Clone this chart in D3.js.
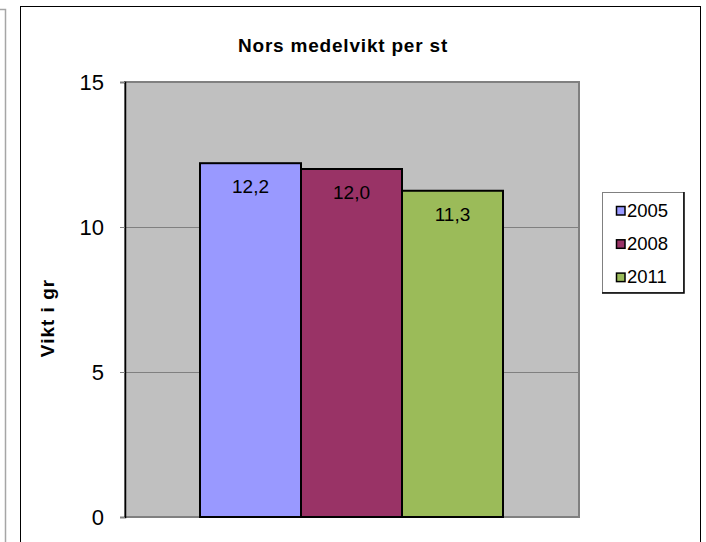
<!DOCTYPE html>
<html>
<head>
<meta charset="utf-8">
<script src="https://cdn.jsdelivr.net/npm/d3@7"></script>
<style>
  html, body { margin: 0; padding: 0; background: #fff; }
  svg { display: block; font-family: "Liberation Sans", Arial, sans-serif; }
</style>
</head>
<body>
<svg id="chart" width="706" height="542"></svg>
<script>
// ---- data ----
const title = "Nors medelvikt per st";
const yAxisTitle = "Vikt i gr";
const series = ["2005", "2008", "2011"];
const values = [12.2, 12.0, 11.25];
const colors = ["#9999FF", "#993366", "#9BBB59"];
const yTicks = [0, 5, 10, 15];

// ---- layout ----
const svg = d3.select("#chart");
const plot = { left: 125, right: 579, top: 82, bottom: 517 };

// stray frame fragment at the far left
svg.append("path")
  .attr("d", "M0,9.5 H5.5 V542")
  .attr("fill", "none").attr("stroke", "#a6a6a6").attr("stroke-width", 1.5);

// chart frame
svg.append("rect")
  .attr("x", 20.5).attr("y", 6.5).attr("width", 680).attr("height", 560)
  .attr("fill", "#fff").attr("stroke", "#000").attr("stroke-width", 1);

// scales
const y = d3.scaleLinear().domain([0, 15]).range([plot.bottom, plot.top]);
const x = d3.scaleBand().domain(series).range([200, 503]).padding(0);

// plot area
svg.append("rect")
  .attr("x", plot.left).attr("y", plot.top)
  .attr("width", plot.right - plot.left).attr("height", plot.bottom - plot.top)
  .attr("fill", "#C0C0C0").attr("stroke", "#808080").attr("stroke-width", 2);

// gridlines
svg.append("g").selectAll("line")
  .data(yTicks.filter(t => t > 0 && t < 15))
  .join("line")
  .attr("x1", plot.left).attr("x2", plot.right)
  .attr("y1", d => Math.round(y(d)) + 0.5).attr("y2", d => Math.round(y(d)) + 0.5)
  .attr("stroke", "#808080").attr("stroke-width", 1);

// y axis
const yAxis = d3.axisLeft(y).tickValues(yTicks).tickSize(5).tickPadding(16)
  .tickFormat(d3.format("d"));
const gy = svg.append("g").attr("transform", `translate(${plot.left},0)`).call(yAxis);
gy.select(".domain").attr("stroke", "#000").attr("stroke-width", 1.5);
gy.selectAll(".tick line").attr("stroke", "#808080");
gy.selectAll(".tick text")
  .attr("font-size", 22).attr("fill", "#000")
  .attr("font-family", "Liberation Sans, Arial, sans-serif")
  .attr("dy", "0.36em");

// bars
svg.append("g").selectAll("rect")
  .data(values)
  .join("rect")
  .attr("x", (d, i) => x(series[i]))
  .attr("y", d => y(d))
  .attr("width", x.bandwidth())
  .attr("height", d => y(0) - y(d))
  .attr("fill", (d, i) => colors[i])
  .attr("stroke", "#000").attr("stroke-width", 2);

// value labels
const fmt = v => d3.format(".1f")(v).replace(".", ",");
svg.append("g").selectAll("text")
  .data(values)
  .join("text")
  .attr("x", (d, i) => x(series[i]) + x.bandwidth() / 2)
  .attr("y", d => y(d) + 30)
  .attr("text-anchor", "middle")
  .attr("font-size", 19)
  .attr("fill", "#000")
  .text(d => fmt(d));

// title
svg.append("text")
  .attr("x", 343).attr("y", 52)
  .attr("text-anchor", "middle")
  .attr("font-size", 19).attr("font-weight", "bold")
  .attr("letter-spacing", "0.8px")
  .text(title);

// y axis title
svg.append("text")
  .attr("transform", "translate(54,318) rotate(-90)")
  .attr("text-anchor", "middle")
  .attr("font-size", 19).attr("font-weight", "bold")
  .attr("letter-spacing", "1px")
  .text(yAxisTitle);

// legend
const lg = svg.append("g");
lg.append("rect")
  .attr("x", 602.5).attr("y", 192.5).attr("width", 81).attr("height", 100)
  .attr("fill", "#fff").attr("stroke", "#808080").attr("stroke-width", 1);
lg.append("path")
  .attr("d", "M684,192 V293 H602")
  .attr("fill", "none").attr("stroke", "#000").attr("stroke-width", 1.5);
const items = lg.selectAll("g.item")
  .data(series)
  .join("g").attr("class", "item")
  .attr("transform", (d, i) => `translate(0,${216.5 + i * 33.3})`);
items.append("rect")
  .attr("x", 616.5).attr("y", -10).attr("width", 8.5).attr("height", 8.5)
  .attr("fill", (d, i) => colors[i]).attr("stroke", "#000").attr("stroke-width", 1.5);
items.append("text")
  .attr("x", 627).attr("y", 0)
  .attr("font-size", 18.5).attr("fill", "#000")
  .text(d => d);
</script>
</body>
</html>
